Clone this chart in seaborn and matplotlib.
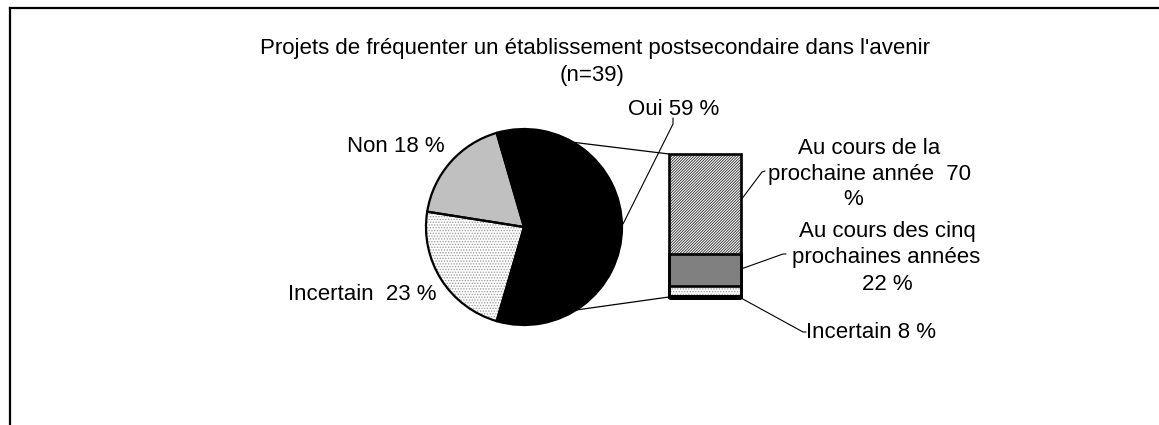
import matplotlib
matplotlib.use("Agg")
import matplotlib.pyplot as plt
import seaborn as sns
import numpy as np
from matplotlib.patches import ConnectionPatch

# ---- data -------------------------------------------------------------
title_lines = ["Projets de fréquenter un établissement postsecondaire dans l'avenir",
               "(n=39)"]
pie_labels = ["Oui", "Non", "Incertain"]
pie_values = [59, 18, 23]
bar_labels = ["Au cours de la prochaine année", "Au cours des cinq prochaines années",
              "Incertain"]
bar_values = [70, 22, 8]

# ---- style ------------------------------------------------------------
sns.set_theme(style="white")
plt.rcParams["font.family"] = ["Liberation Sans", "DejaVu Sans"]
plt.rcParams["hatch.linewidth"] = 0.65
FS = 16

W, H = 1159, 425
fig = plt.figure(figsize=(W / 100, H / 100), dpi=100)
ax = fig.add_axes([0, 0, 1, 1])

# ---- pie --------------------------------------------------------------
cx, cy, r = 524, 198, 98
start = -pie_values[0] * 3.6 / 2
fills = ["black", "#c0c0c0", "white"]
wedges, _ = ax.pie(pie_values, center=(cx, cy), radius=r, startangle=start,
                   colors=fills, wedgeprops=dict(linewidth=0))
wedges[2].set_hatch("......")
wedges[2].set_edgecolor("#9a9a9a")
ax.pie(pie_values, center=(cx, cy), radius=r, startangle=start,
       wedgeprops=dict(fill=False, edgecolor="black", linewidth=1.6))

ax.set_xlim(0, W)
ax.set_ylim(0, H)
ax.set_aspect("equal")
ax.axis("off")

# ---- stacked bar for the "Oui" breakdown --------------------------------
bax = fig.add_axes([669 / W, (H - 297) / H, 72 / W, 143 / H])
tops = np.cumsum(bar_values[::-1])[::-1]          # 100, 30, 8
seg_fill = ["white", "#808080", "white"]
seg_hatch = ["/" * 12, None, "......"]
seg_hcol = ["#383838", "#808080", "#9a9a9a"]
for top, fc, hh, hc in zip(tops, seg_fill, seg_hatch, seg_hcol):
    sns.barplot(x=[0], y=[top], color=fc, saturation=1, width=1.0,
                linewidth=0, ax=bax)
    p = bax.patches[-1]
    if hh:
        p.set_hatch(hh)
        p.set_edgecolor(hc)
        p.set_linewidth(0)
for top in tops:
    sns.barplot(x=[0], y=[top], fill=False, color="black", width=1.0,
                linewidth=1.9, ax=bax)
for p in bax.patches:
    p.set_clip_on(False)
bax.axhline(0, color="black", lw=3.6, clip_on=False, solid_capstyle="butt")
bax.set_xlim(-0.5, 0.5)
bax.set_ylim(0, 100)
bax.axis("off")

# ---- connectors between pie and bar ------------------------------------
a1 = np.deg2rad(start + pie_values[0] * 3.6)
a0 = np.deg2rad(start)
for ang, ybar in [(a1, 100), (a0, 0)]:
    con = ConnectionPatch(xyA=(cx + r * np.cos(ang), cy + r * np.sin(ang)),
                          coordsA=ax.transData, xyB=(-0.5, ybar),
                          coordsB=bax.transData, color="black", lw=0.9)
    fig.add_artist(con)

# ---- frame --------------------------------------------------------------
ax.plot([9.5, W], [417.5, 417.5], color="black", lw=1.6, solid_capstyle="projecting")
ax.plot([9.5, 9.5], [0, 417.5], color="black", lw=1.6, solid_capstyle="projecting")

# ---- texts ----------------------------------------------------------------
def txt(x, y, s):
    ax.text(x, H - y - 7.5, s, ha="center", va="baseline", fontsize=FS,
            color="black")

txt(595, 46, title_lines[0])
txt(592, 73, title_lines[1])
txt(674, 107, f"{pie_labels[0]} {pie_values[0]} %")
txt(396, 144, f"{pie_labels[1]} {pie_values[1]} %")
txt(362, 293, f"{pie_labels[2]}  {pie_values[2]} %")

txt(869, 146, "Au cours de la")
txt(870, 172, f"prochaine année  {bar_values[0]}")
txt(853, 197, "%")
txt(887, 229, "Au cours des cinq")
txt(886, 256, "prochaines années")
txt(887, 283, f"{bar_values[1]} %")
txt(871, 331, f"{bar_labels[2]} {bar_values[2]} %")

# ---- leader lines -----------------------------------------------------------
leaders = [
    [(673, 118), (673, 124), (623, 224)],
    [(741, 200), (762, 172), (765, 171)],
    [(741, 269), (783, 254), (786, 254)],
    [(741, 298), (803, 332), (806, 332)],
]
for pts in leaders:
    xs = [p[0] for p in pts]
    ys = [H - p[1] for p in pts]
    ax.plot(xs, ys, color="black", lw=0.8)

fig.savefig("out.png", dpi=100)
